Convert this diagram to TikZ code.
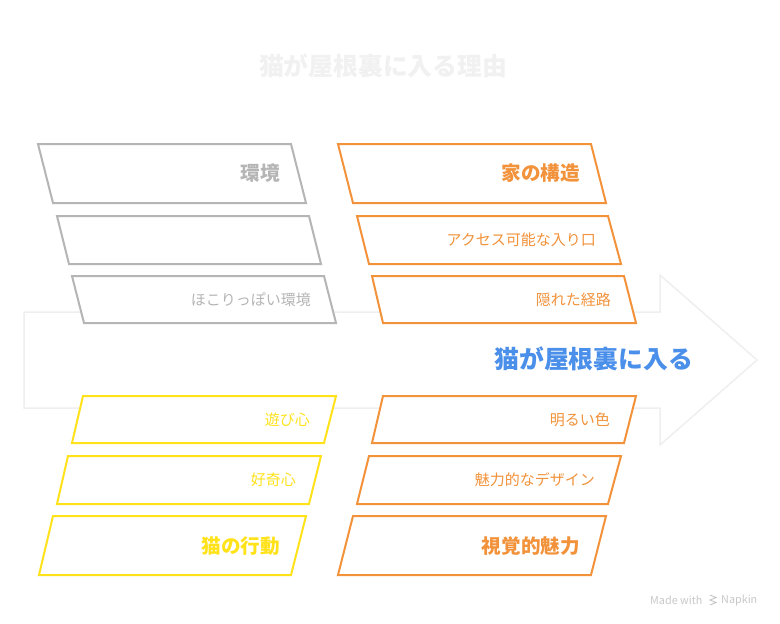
\documentclass[tikz,border=0pt]{standalone}
\usepackage{fontspec}
\setmainfont{Noto Sans CJK JP}
\usepackage{tikz}

\definecolor{boxgray}{HTML}{B5B5B5}
\definecolor{boxorange}{HTML}{F2923A}
\definecolor{boxyellow}{HTML}{FFE21A}
\definecolor{catblue}{HTML}{4A8FEA}
\definecolor{arrowgray}{HTML}{EFEFEF}
\definecolor{titlegray}{HTML}{F1F1F1}
\definecolor{markgray}{HTML}{C8C8C8}

\tikzset{
  graybox/.style={draw=boxgray, line width=2pt, fill=white},
  orangebox/.style={draw=boxorange, line width=2pt, fill=white},
  yellowbox/.style={draw=boxyellow, line width=2pt, fill=white},
  biglabel/.style={anchor=east, inner sep=0pt, font=\fontsize{19.6}{22}\selectfont\bfseries},
  smalllabel/.style={anchor=east, inner sep=0pt, font=\fontsize{15}{17}\selectfont}
}

\begin{document}
\begin{tikzpicture}[x=1pt, y=-1pt]

\useasboundingbox[fill=white] (0,0) rectangle (780,624);

% Title
\node[text=titlegray, font=\fontsize{24.8}{28}\selectfont\bfseries] (title) at (383,66) {猫が屋根裏に入る理由};

% Big arrow
\draw[draw=arrowgray, line width=1.5pt, fill=white]
  (24,312) -- (660,312) -- (660,275) -- (757,360) -- (660,445) -- (660,408) -- (24,408) -- cycle;

% Environment boxes
\draw[graybox] (38,144) -- (291,144) -- (306,203) -- (53,203) -- cycle;
\draw[graybox] (57,216) -- (309,216) -- (321,264) -- (69,264) -- cycle;
\draw[graybox] (72,276) -- (324,276) -- (336,323) -- (84,323) -- cycle;

% House structure boxes
\draw[orangebox] (338,144) -- (591,144) -- (606,203) -- (353,203) -- cycle;
\draw[orangebox] (357,216) -- (608,216) -- (621,264) -- (369,264) -- cycle;
\draw[orangebox] (372,276) -- (624,276) -- (636,323) -- (383,323) -- cycle;

% Cat behaviour boxes
\draw[yellowbox] (83,396) -- (336,396) -- (324,443) -- (72,443) -- cycle;
\draw[yellowbox] (68,456) -- (321,456) -- (309,504) -- (57,504) -- cycle;
\draw[yellowbox] (53,516) -- (306,516) -- (291,575) -- (39,575) -- cycle;

% Visual appeal boxes
\draw[orangebox] (383,396) -- (636,396) -- (624,443) -- (372,443) -- cycle;
\draw[orangebox] (369,456) -- (621,456) -- (608,504) -- (357,504) -- cycle;
\draw[orangebox] (353,516) -- (606,516) -- (591,575) -- (338,575) -- cycle;

% Labels
\node[biglabel, text=boxgray] (env) at (280,173) {環境};
\node[smalllabel, text=boxgray] (dusty) at (311,300) {ほこりっぽい環境};

\node[biglabel, text=boxorange] (house) at (580,173) {家の構造};
\node[smalllabel, text=boxorange] (access) at (596,240) {アクセス可能な入り口};
\node[smalllabel, text=boxorange] (hidden) at (611,300) {隠れた経路};

\node[smalllabel, text=boxyellow] (play) at (310,420) {遊び心};
\node[smalllabel, text=boxyellow] (curious) at (296,480) {好奇心};
\node[biglabel, text=boxyellow] (behave) at (280,546) {猫の行動};

\node[smalllabel, text=boxorange] (bright) at (610,420) {明るい色};
\node[smalllabel, text=boxorange] (design) at (595,480) {魅力的なデザイン};
\node[biglabel, text=boxorange] (visual) at (580,546) {視覚的魅力};

\node[anchor=east, inner sep=0pt, text=catblue, font=\fontsize{24.8}{28}\selectfont\bfseries] (goal) at (693,359) {猫が屋根裏に入る};

% Watermark
\node[anchor=west, inner sep=0pt, text=markgray, font=\fontsize{10.8}{12}\selectfont] (made) at (650,600) {Made with};
\draw[markgray, line width=1pt] (710,595) -- (716,597.5) -- (710,600) -- (716,602.5) -- (710,605);
\node[anchor=west, inner sep=0pt, text=markgray, font=\fontsize{10.8}{12}\selectfont] (napkin) at (721,600) {Napkin};

\end{tikzpicture}
\end{document}
